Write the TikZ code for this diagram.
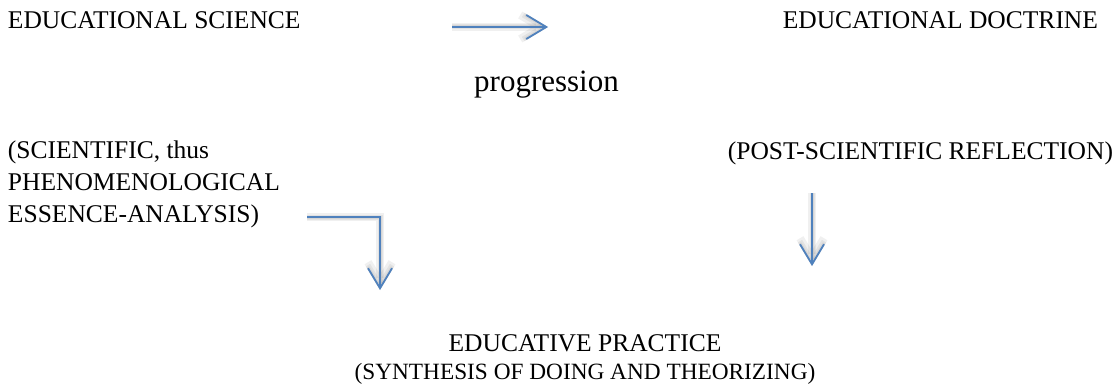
\documentclass[tikz,border=0pt]{standalone}
\usepackage{fontspec}
\setmainfont{Liberation Serif}
\usetikzlibrary{arrows.meta}
\definecolor{arrowblue}{RGB}{79,129,189}
\tikzset{
  txt/.style={inner sep=0pt, outer sep=0pt, font=#1},
  flow/.style={draw=arrowblue, line width=1.8pt, -{Straight Barb[length=20pt,width=24pt,line width=1.8pt]}},
  shade/.style={draw=black, opacity=0.06, line width=#1, -{Straight Barb[length=20pt,width=24pt]}},
}
\begin{document}
\begin{tikzpicture}[x=1pt,y=-1pt]
\useasboundingbox (0,0) rectangle (1119,385);
% texts
\node[txt=\fontsize{25.5}{30}\selectfont, anchor=base west] (sci) at (8,29) {EDUCATIONAL SCIENCE};
\node[txt=\fontsize{25.5}{30}\selectfont, anchor=base east] (doc) at (1098,29) {EDUCATIONAL DOCTRINE};
\node[txt=\fontsize{31}{36}\selectfont, anchor=base] (prog) at (546.5,92) {progression};
\node[txt=\fontsize{25.5}{30}\selectfont, anchor=base west] (l1) at (8,158) {(SCIENTIFIC, thus};
\node[txt=\fontsize{25.5}{30}\selectfont, anchor=base west] (l2) at (8,190) {PHENOMENOLOGICAL};
\node[txt=\fontsize{25.5}{30}\selectfont, anchor=base west] (l3) at (8,222) {ESSENCE-ANALYSIS)};
\node[txt=\fontsize{25.5}{30}\selectfont, anchor=base east] (post) at (1113,160) {(POST-SCIENTIFIC REFLECTION)};
\node[txt=\fontsize{25.5}{30}\selectfont, anchor=base] (prac) at (585,351) {EDUCATIVE PRACTICE};
\node[txt=\fontsize{23.3}{28}\selectfont, anchor=base] (synth) at (585,379) {(SYNTHESIS OF DOING AND THEORIZING)};
% arrow end points
\coordinate (a1s) at (452,27);
\coordinate (a1e) at (548,27);
\coordinate (a2s) at (307,217);
\coordinate (a2m) at (380,217);
\coordinate (a2e) at (380,290);
\coordinate (a3s) at (812,193);
\coordinate (a3e) at (812,266);
% shadows
\foreach \w in {8,5,3}{
  \draw[shade=\w pt, shift={(3pt,-6pt)}] (a1s) -- (a1e);
  \draw[shade=\w pt, shift={(4pt,-6pt)}] (a2s) -- (a2m) -- (a2e);
  \draw[shade=\w pt, shift={(4pt,-6pt)}] (a3s) -- (a3e);
}
% arrows
\draw[flow] (a1s) -- (a1e);
\draw[flow] (a2s) -- (a2m) -- (a2e);
\draw[flow] (a3s) -- (a3e);
\end{tikzpicture}
\end{document}
